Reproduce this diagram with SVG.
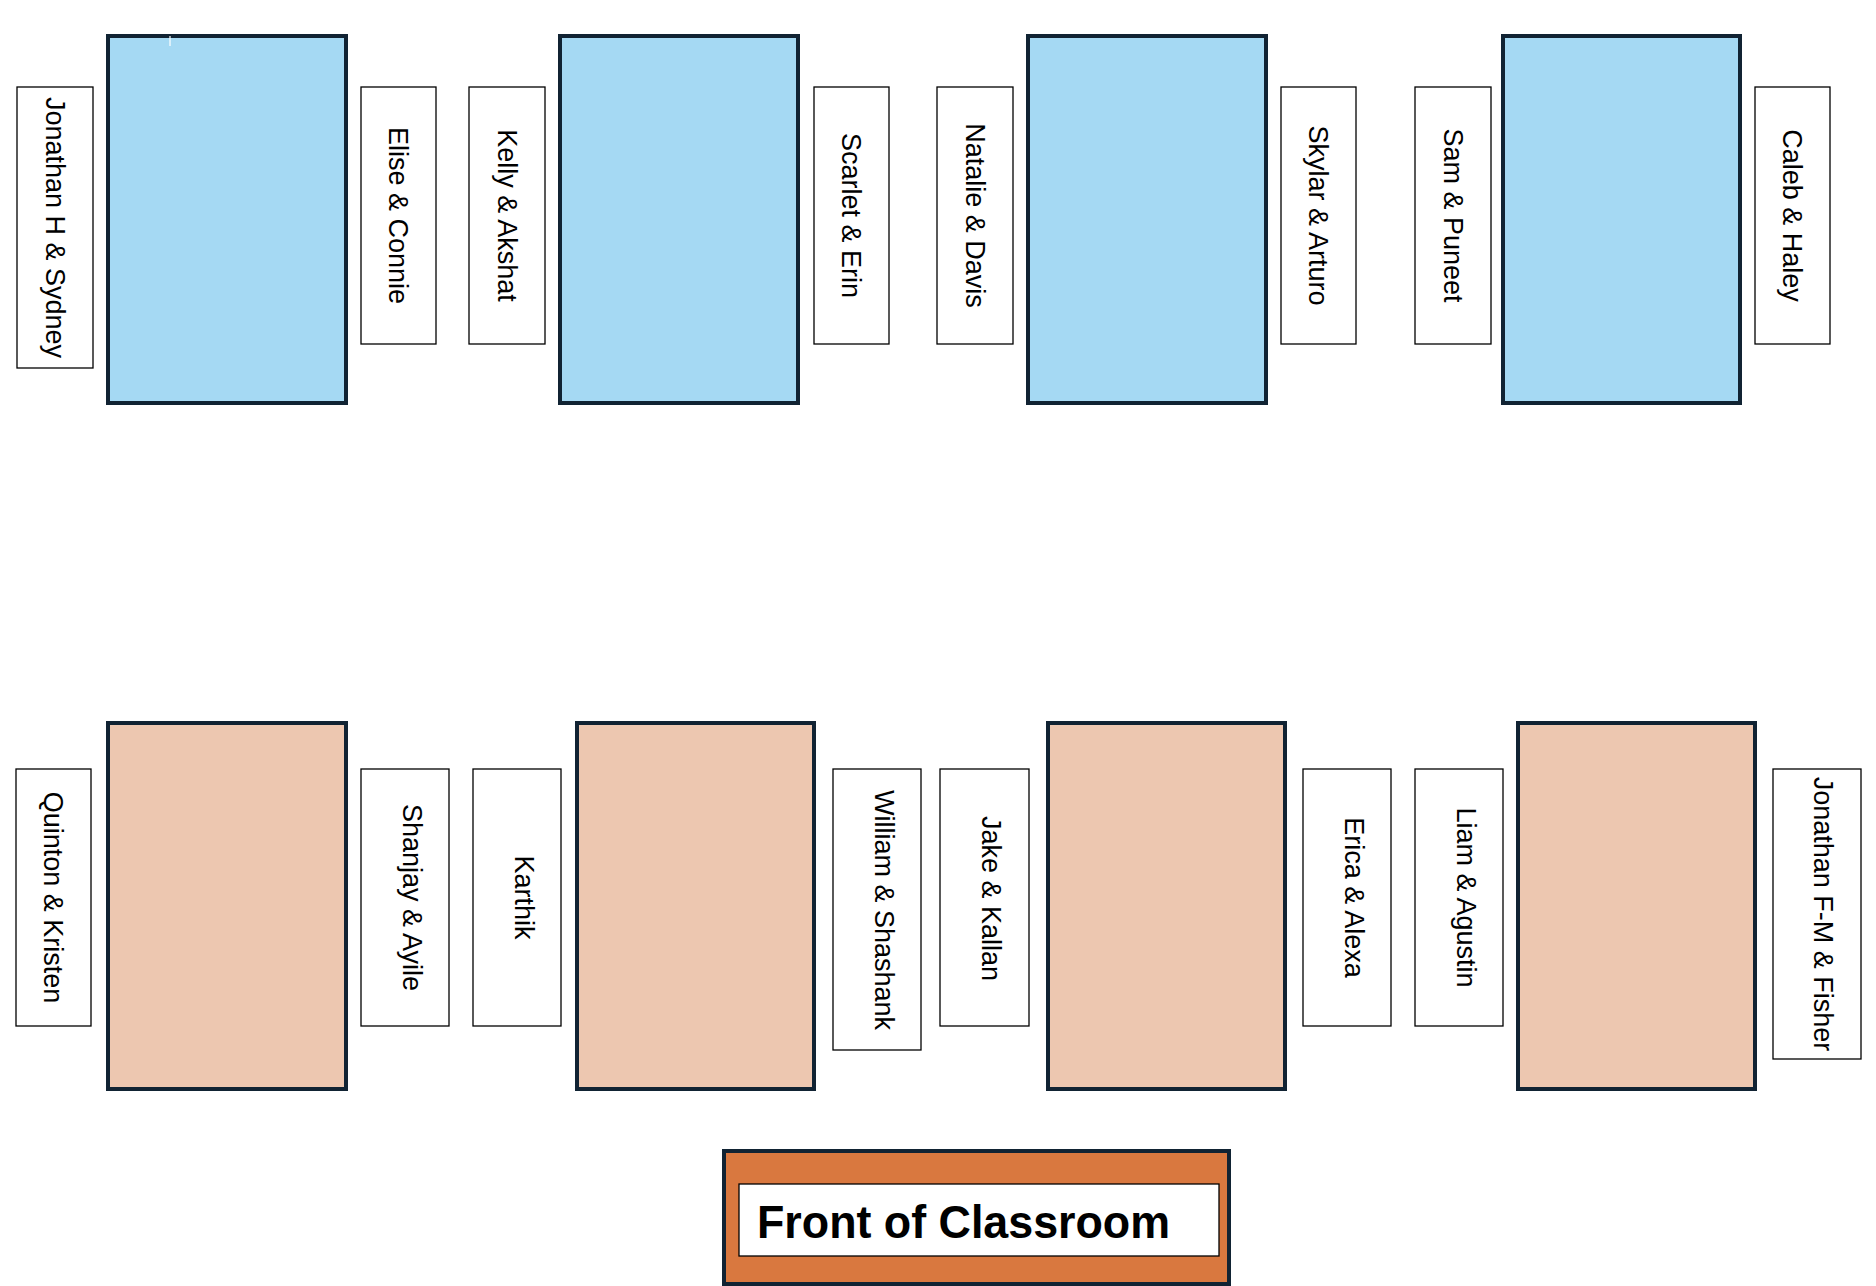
<svg xmlns="http://www.w3.org/2000/svg" width="1876" height="1286" viewBox="0 0 1876 1286">
<style>
.desk-b{fill:#A5D9F3;stroke:#112333;stroke-width:4}
.desk-p{fill:#EDC7B0;stroke:#112333;stroke-width:4}
.lbl{fill:#FFFFFF;stroke:#000000;stroke-width:1.3}
.t{font-family:"Liberation Sans",Arial,sans-serif;font-size:27px;fill:#000000;text-anchor:middle}
.front{fill:#D9783F;stroke:#112333;stroke-width:4}
.ft{font-family:"Liberation Sans",Arial,sans-serif;font-size:47px;font-weight:bold;fill:#000000}
</style>
<rect width="1876" height="1286" fill="#FFFFFF"/>
<g id="desks-back">
<g id="desk-b1"><rect class="desk-b" x="108" y="36" width="238" height="367"/><line x1="170" y1="36" x2="170" y2="46" stroke="#FFFFFF" stroke-width="1.2"/></g>
<g id="desk-b2"><rect class="desk-b" x="560" y="36" width="238" height="367"/></g>
<g id="desk-b3"><rect class="desk-b" x="1028" y="36" width="238" height="367"/></g>
<g id="desk-b4"><rect class="desk-b" x="1503" y="36" width="237" height="367"/></g>
</g>
<g id="desks-front">
<g id="desk-p1"><rect class="desk-p" x="108" y="723" width="238" height="366"/></g>
<g id="desk-p2"><rect class="desk-p" x="577" y="723" width="237" height="366"/></g>
<g id="desk-p3"><rect class="desk-p" x="1048" y="723" width="237" height="366"/></g>
<g id="desk-p4"><rect class="desk-p" x="1518" y="723" width="237" height="366"/></g>
</g>
<g id="labels-top">
<g id="l-jonathan-h"><rect class="lbl" x="17" y="87" width="76" height="281"/><text class="t" transform="translate(55,227.5) rotate(90)" dy="0.35em">Jonathan H &amp; Sydney</text></g>
<g id="l-elise"><rect class="lbl" x="361" y="87" width="75" height="257"/><text class="t" transform="translate(398.5,215.5) rotate(90)" dy="0.35em">Elise &amp; Connie</text></g>
<g id="l-kelly"><rect class="lbl" x="469" y="87" width="76" height="257"/><text class="t" transform="translate(507,215.5) rotate(90)" dy="0.35em">Kelly &amp; Akshat</text></g>
<g id="l-scarlet"><rect class="lbl" x="814" y="87" width="75" height="257"/><text class="t" transform="translate(851.5,215.5) rotate(90)" dy="0.35em">Scarlet &amp; Erin</text></g>
<g id="l-natalie"><rect class="lbl" x="937" y="87" width="76" height="257"/><text class="t" transform="translate(975,215.5) rotate(90)" dy="0.35em">Natalie &amp; Davis</text></g>
<g id="l-skylar"><rect class="lbl" x="1281" y="87" width="75" height="257"/><text class="t" transform="translate(1318.5,215.5) rotate(90)" dy="0.35em">Skylar &amp; Arturo</text></g>
<g id="l-sam"><rect class="lbl" x="1415" y="87" width="76" height="257"/><text class="t" transform="translate(1453,215.5) rotate(90)" dy="0.35em">Sam &amp; Puneet</text></g>
<g id="l-caleb"><rect class="lbl" x="1755" y="87" width="75" height="257"/><text class="t" transform="translate(1792.5,215.5) rotate(90)" dy="0.35em">Caleb &amp; Haley</text></g>
</g>
<g id="labels-bottom">
<g id="l-quinton"><rect class="lbl" x="16" y="769" width="75" height="257"/><text class="t" transform="translate(53.5,897.5) rotate(90)" dy="0.35em">Quinton &amp; Kristen</text></g>
<g id="l-shanjay"><rect class="lbl" x="361" y="769" width="88" height="257"/><text class="t" transform="translate(412,897.5) rotate(90)" dy="0.35em">Shanjay &amp; Ayile</text></g>
<g id="l-karthik"><rect class="lbl" x="473" y="769" width="88" height="257"/><text class="t" transform="translate(524,897.5) rotate(90)" dy="0.35em">Karthik</text></g>
<g id="l-william"><rect class="lbl" x="833" y="769" width="88" height="281"/><text class="t" transform="translate(884,910) rotate(90)" dy="0.35em">William &amp; Shashank</text></g>
<g id="l-jake"><rect class="lbl" x="940" y="769" width="89" height="257"/><text class="t" transform="translate(991.5,898.5) rotate(90)" dy="0.35em">Jake &amp; Kallan</text></g>
<g id="l-erica"><rect class="lbl" x="1303" y="769" width="88" height="257"/><text class="t" transform="translate(1354,897.5) rotate(90)" dy="0.35em">Erica &amp; Alexa</text></g>
<g id="l-liam"><rect class="lbl" x="1415" y="769" width="88" height="257"/><text class="t" transform="translate(1466,897.5) rotate(90)" dy="0.35em">Liam &amp; Agustin</text></g>
<g id="l-jonathan-fm"><rect class="lbl" x="1773" y="769" width="88" height="290"/><text class="t" transform="translate(1823,914) rotate(90)" dy="0.35em">Jonathan F-M &amp; Fisher</text></g>
</g>
<g id="front-of-classroom">
<rect class="front" x="724" y="1151" width="505" height="133"/>
<rect class="lbl" x="739" y="1184" width="480" height="72"/>
<text class="ft" x="757" y="1238" textLength="413" lengthAdjust="spacingAndGlyphs">Front of Classroom</text>
</g>
<g id="connectors"></g>
</svg>
